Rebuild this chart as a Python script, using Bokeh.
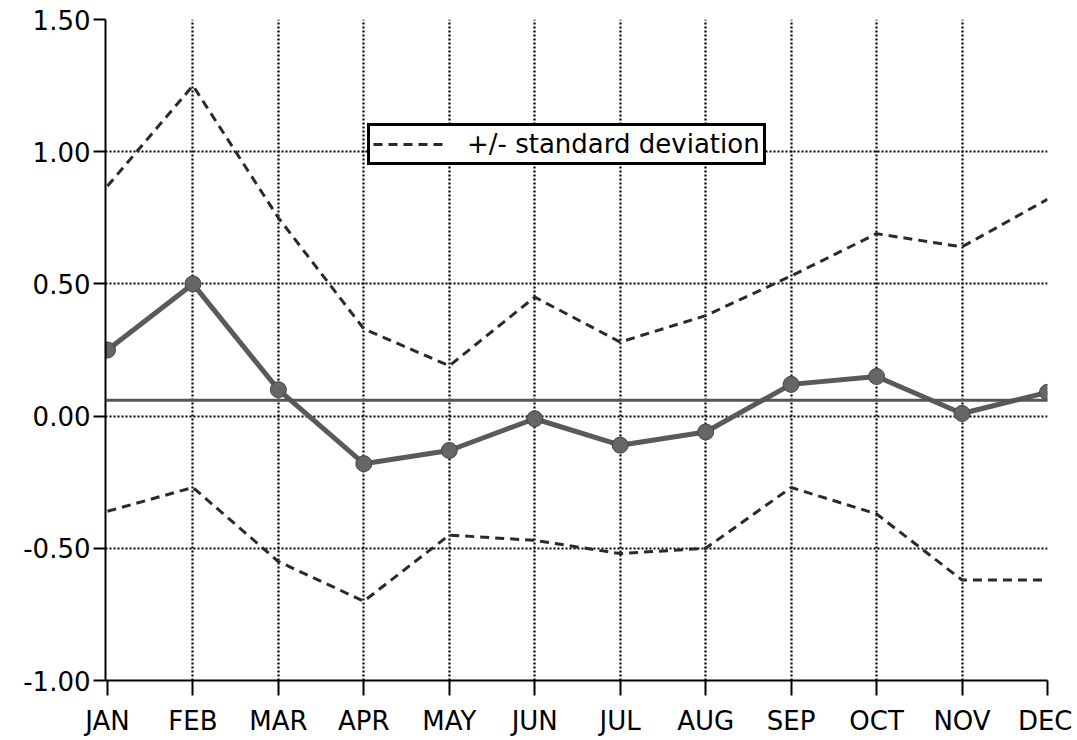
from bokeh.plotting import figure
from bokeh.models import (ColumnDataSource, FixedTicker, Range1d, Span, Legend, LegendItem)
from bokeh.embed import file_html
from bokeh.resources import INLINE

months = ["JAN", "FEB", "MAR", "APR", "MAY", "JUN", "JUL", "AUG", "SEP", "OCT", "NOV", "DEC"]
month_idx = list(range(1, 13))
mean_vals = [0.25, 0.50, 0.10, -0.18, -0.13, -0.01, -0.11, -0.06, 0.12, 0.15, 0.01, 0.09]
upper_sd = [0.87, 1.25, 0.75, 0.33, 0.19, 0.45, 0.28, 0.38, 0.53, 0.69, 0.64, 0.82]
lower_sd = [-0.36, -0.27, -0.55, -0.70, -0.45, -0.47, -0.52, -0.50, -0.27, -0.37, -0.62, -0.62]
annual_mean = 0.06
y_ticks = [-1.0, -0.5, 0.0, 0.5, 1.0, 1.5]
y_tick_labels = ["-1.00", "-0.50", "0.00", "0.50", "1.00", "1.50"]

FONT = "DejaVu Sans"

src = ColumnDataSource(dict(x=month_idx, mean=mean_vals, up=upper_sd, lo=lower_sd))

p = figure(width=1072, height=738, output_backend="svg", toolbar_location=None,
           x_range=Range1d(0.977, 12.0), y_range=Range1d(-1.0, 1.5),
           min_border_left=105, min_border_top=19, min_border_right=25, min_border_bottom=57)
p.outline_line_color = None

# grid
for g in (p.xgrid, p.ygrid):
    g.grid_line_color = "black"
    g.grid_line_alpha = 1.0
    g.grid_line_dash = "2 2"
    g.grid_line_width = 2.2
p.xaxis.ticker = FixedTicker(ticks=month_idx)
p.yaxis.ticker = FixedTicker(ticks=y_ticks)
p.xgrid.ticker = FixedTicker(ticks=month_idx[1:])
p.ygrid.ticker = FixedTicker(ticks=y_ticks[1:])
p.xaxis.major_label_overrides = {i: m for i, m in zip(month_idx, months)}
p.yaxis.major_label_overrides = {t: l for t, l in zip(y_ticks, y_tick_labels)}

for ax in (p.xaxis, p.yaxis):
    ax.axis_line_color = "black"
    ax.axis_line_width = 2
    ax.major_tick_line_color = "black"
    ax.major_tick_line_width = 2
    ax.major_tick_in = 0
    ax.minor_tick_line_color = None
    ax.major_label_text_font = FONT
    ax.major_label_text_font_size = "26px"
    ax.major_label_text_color = "black"
p.xaxis.major_tick_out = 15
p.xaxis.major_label_standoff = 10
p.yaxis.major_tick_out = 12
p.yaxis.major_label_standoff = 3

# annual mean line
p.add_layout(Span(location=annual_mean, dimension="width", line_color="#555555", line_width=3))

# standard deviation envelopes
up_r = p.line("x", "up", source=src, line_color="#2a2a2a", line_width=3, line_dash="9 6")
p.line("x", "lo", source=src, line_color="#2a2a2a", line_width=3, line_dash="9 6")

# monthly mean
p.line("x", "mean", source=src, line_color="#5a5a5a", line_width=5)
p.scatter("x", "mean", source=src, size=16, fill_color="#666666", line_color="#444444", line_width=1)

legend = Legend(items=[LegendItem(label="+/- standard deviation", renderers=[up_r])],
                location=(262, 515), orientation="vertical",
                label_text_font=FONT, label_text_font_size="26px", label_text_color="black",
                glyph_width=70, glyph_height=18, padding=3, spacing=0, margin=0,
                border_line_color="black", border_line_alpha=1.0, border_line_width=3,
                background_fill_color="white", background_fill_alpha=1.0,
                label_standoff=24)
p.add_layout(legend, "center")

open("out.html", "w").write(file_html(p, INLINE))
